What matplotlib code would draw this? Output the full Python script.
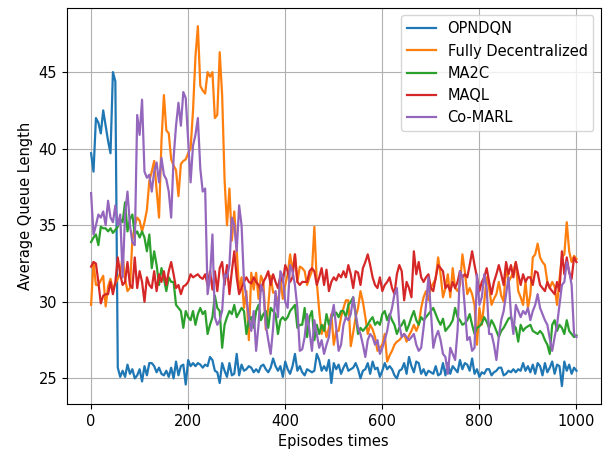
import numpy as np
import matplotlib
matplotlib.use("Agg")
import matplotlib.pyplot as plt

plt.rcParams["font.size"] = 10.5
plt.rcParams["lines.linewidth"] = 1.6

STEP = 5

opndqn = [39.7, 38.5, 42.0, 41.7, 41.0, 42.5, 41.5, 40.5, 39.7, 45.0, 44.4,
          25.7, 25.1, 25.5, 25.1, 25.9, 25.3, 25.6, 25.0, 25.2, 25.6, 24.8, 25.8, 25.2, 26.0, 26.0, 25.8,
          25.4, 25.7, 25.3, 25.2, 25.5, 25.1, 25.7, 25.0, 26.1, 25.2, 25.8, 25.9, 24.6, 26.2, 25.8, 26.0,
          25.8, 26.0, 25.9, 25.7, 25.9, 25.8, 26.4, 26.2, 25.5, 25.4, 24.7, 26.0, 25.5, 25.1, 26.0, 25.2,
          25.3, 26.6, 25.2, 25.9, 25.5, 25.6, 25.8, 25.7, 25.4, 25.6, 25.4, 25.8, 25.9, 25.6, 25.4, 25.7,
          26.3, 25.8, 25.5, 25.8, 25.1, 26.1, 25.6, 25.3, 25.8, 26.6, 25.5, 25.8, 25.4, 25.2, 25.6, 25.5,
          25.4, 25.5, 26.6, 26.2, 25.5, 25.8, 25.5, 26.2, 24.7, 26.0, 25.6, 25.9, 25.3, 25.7, 26.0, 25.5,
          25.6, 25.7, 26.0, 25.6, 25.0, 25.5, 25.6, 26.0, 25.3, 26.1, 25.6, 25.7, 25.1, 25.5, 26.0, 25.6,
          25.8, 25.6, 25.2, 25.0, 25.5, 25.6, 26.0, 25.3, 26.4, 25.8, 25.4, 26.1, 26.0, 25.3, 25.6, 25.2,
          25.5, 25.4, 25.3, 25.8, 25.2, 25.3, 26.0, 25.2, 26.0, 25.3, 25.8, 25.6, 25.4, 26.2, 25.6, 26.0,
          25.9, 25.5, 26.3, 25.3, 25.6, 25.1, 25.4, 25.3, 25.6, 25.6, 25.2, 25.4, 25.5, 25.7, 25.7, 25.2,
          25.3, 25.5, 25.4, 25.6, 25.4, 25.6, 25.5, 26.0, 25.5, 25.8, 25.4, 25.9, 25.3, 26.0, 25.8, 25.2,
          26.0, 25.4, 25.7, 26.1, 25.3, 25.9, 25.8, 24.5, 26.1, 25.5, 25.9, 25.3, 25.7, 25.5]

fully_dec = [29.8, 32.6, 31.1, 31.1, 31.4, 31.7, 29.7, 31.0, 31.5, 30.8, 31.2, 31.5, 31.9, 33.0, 31.5,
             30.7, 30.9, 34.0, 35.0, 35.5, 35.3, 34.6, 35.2, 36.0, 37.9, 38.5, 39.2, 37.3, 35.5, 40.5,
             43.5, 41.2, 41.0, 39.3, 38.9, 38.6, 36.9, 39.0, 39.2, 39.3, 39.7, 40.0, 42.5, 46.0, 48.0,
             44.1, 43.8, 43.6, 45.0, 44.7, 45.0, 42.0, 42.2, 46.3, 43.5, 38.0, 35.0, 37.4, 34.0, 35.9,
             33.4, 30.7, 31.6, 29.6, 30.7, 27.5, 31.9, 30.8, 31.9, 30.2, 31.7, 31.3, 28.2, 29.7, 31.7,
             30.6, 30.6, 29.7, 31.5, 30.2, 31.1, 31.8, 33.1, 32.0, 33.1, 31.3, 32.3, 32.2, 32.0, 31.1,
             31.6, 32.0, 34.9, 31.3, 29.4, 27.9, 28.5, 27.7, 28.3, 29.2, 27.2, 28.1, 28.1, 29.0, 29.6,
             30.1, 30.1, 27.1, 28.0, 29.0, 29.6, 30.7, 30.0, 29.0, 27.9, 28.5, 28.2, 27.7, 26.8, 27.0,
             27.2, 27.9, 26.1, 26.5, 26.8, 27.2, 27.4, 27.5, 27.7, 27.9, 27.4, 27.8, 28.1, 28.5, 28.1,
             28.5, 29.6, 30.3, 30.7, 30.1, 30.9, 31.2, 31.5, 32.9, 31.8, 30.3, 30.9, 31.8, 30.3, 32.2,
             30.9, 30.7, 31.1, 33.1, 32.0, 30.5, 30.9, 30.5, 29.8, 27.2, 29.6, 28.5, 30.0, 31.6, 30.9,
             29.8, 30.2, 30.5, 31.3, 30.4, 30.0, 32.4, 31.3, 31.6, 32.0, 32.6, 30.7, 30.3, 29.8, 31.3,
             29.6, 30.5, 32.9, 33.1, 33.8, 32.9, 32.6, 32.4, 31.3, 30.9, 31.3, 31.0, 29.8, 31.5, 32.9,
             33.1, 35.2, 33.3, 32.6, 33.0, 32.8]

ma2c = [33.9, 34.2, 34.4, 33.7, 34.9, 34.8, 34.8, 34.6, 34.8, 34.5, 34.7, 34.9, 35.4, 35.2, 36.5,
        34.6, 35.4, 35.7, 34.4, 34.6, 34.2, 34.6, 34.2, 33.3, 34.4, 32.2, 33.3, 32.4, 31.1, 32.2,
        31.5, 30.7, 31.6, 31.3, 31.3, 29.8, 29.6, 29.4, 28.3, 29.4, 29.0, 28.8, 29.4, 28.5, 29.2,
        29.6, 29.2, 29.4, 27.9, 28.5, 29.0, 30.4, 29.6, 29.4, 27.0, 28.5, 29.0, 29.4, 29.2, 29.8,
        29.0, 29.3, 29.6, 29.4, 27.9, 28.8, 29.0, 28.3, 29.4, 29.8, 28.8, 29.2, 29.4, 28.3, 29.6,
        29.4, 29.2, 27.9, 28.8, 29.0, 28.8, 29.0, 29.4, 29.6, 29.8, 28.3, 28.5, 28.5, 29.6, 27.7,
        29.0, 29.4, 27.5, 28.5, 27.9, 28.5, 28.1, 29.2, 28.5, 29.0, 29.2, 29.3, 29.0, 29.4, 29.4,
        29.0, 29.8, 30.0, 30.3, 29.2, 27.9, 28.3, 28.1, 28.3, 28.5, 28.8, 29.0, 28.5, 28.7, 28.5,
        29.2, 29.4, 28.8, 29.2, 28.8, 28.5, 27.9, 28.3, 28.5, 28.8, 28.1, 28.5, 29.0, 29.4, 28.8,
        28.5, 29.0, 28.8, 29.0, 29.2, 29.4, 29.6, 29.2, 28.8, 28.5, 28.9, 28.1, 28.3, 28.5, 28.8,
        29.6, 29.0, 28.8, 28.5, 28.6, 28.8, 29.2, 28.5, 27.9, 28.3, 28.4, 28.6, 29.0, 28.7, 28.3,
        28.8, 28.5, 28.1, 27.7, 28.1, 28.3, 28.6, 28.9, 29.0, 28.5, 28.3, 27.4, 28.5, 28.1, 28.3,
        28.4, 28.5, 28.1, 28.0, 27.9, 28.1, 27.9, 27.5, 27.2, 26.6, 28.5, 28.8, 28.1, 28.5, 28.3,
        27.9, 28.8, 28.1, 27.9, 27.7, 27.8]

maql = [32.3, 32.6, 32.5, 31.3, 29.9, 30.4, 30.5, 30.5, 31.3, 30.5, 31.3, 32.9, 31.8, 31.1, 31.3,
        32.6, 31.1, 30.9, 32.9, 30.9, 32.0, 31.3, 30.0, 31.6, 31.1, 30.9, 32.0, 30.7, 31.8, 31.3,
        32.0, 31.1, 32.0, 32.6, 31.8, 30.9, 31.1, 30.5, 31.0, 31.1, 31.3, 31.8, 31.6, 31.7, 31.8,
        31.6, 31.5, 31.8, 31.1, 32.0, 30.8, 32.0, 30.7, 32.2, 32.6, 31.1, 32.4, 30.5, 32.0, 33.3,
        31.6, 30.5, 30.9, 31.3, 31.6, 31.3, 31.2, 31.6, 31.3, 31.1, 30.7, 31.3, 31.6, 32.0, 31.1,
        31.8, 31.3, 30.9, 31.7, 31.3, 32.4, 32.0, 31.3, 31.6, 33.1, 31.3, 31.1, 31.3, 31.3, 31.3,
        32.0, 32.2, 32.0, 31.1, 31.6, 32.2, 31.1, 32.1, 30.7, 31.3, 31.6, 31.4, 31.8, 31.6, 32.0,
        31.6, 32.4, 31.8, 30.9, 32.0, 31.9, 31.1, 32.2, 32.6, 33.1, 32.4, 31.6, 31.1, 30.9, 31.6,
        30.7, 31.1, 31.3, 31.6, 30.9, 30.5, 31.8, 32.4, 32.0, 30.1, 31.3, 30.9, 30.3, 33.3, 31.8,
        32.6, 31.6, 31.3, 31.6, 31.8, 30.9, 30.7, 31.6, 32.4, 32.2, 32.0, 30.9, 31.1, 30.7, 31.3,
        30.9, 31.3, 32.0, 31.6, 31.8, 31.6, 32.4, 33.3, 32.4, 31.6, 30.7, 31.3, 31.6, 32.2, 31.3,
        30.5, 31.3, 31.8, 32.4, 31.8, 31.1, 32.6, 31.8, 32.4, 31.6, 32.6, 31.8, 31.1, 31.8, 31.3,
        31.6, 31.6, 31.1, 32.0, 31.9, 31.1, 30.9, 30.7, 31.3, 30.9, 30.7, 30.5, 31.3, 30.7, 33.3,
        31.8, 32.9, 31.9, 31.5, 32.9, 32.6]

co_marl = [37.1, 34.4, 35.0, 35.7, 35.5, 35.9, 35.0, 36.6, 35.5, 35.2, 36.3, 35.0, 35.7, 31.6, 35.7,
           37.2, 35.0, 33.9, 33.7, 42.2, 40.9, 43.2, 38.5, 38.1, 38.3, 37.2, 38.5, 39.1, 37.8, 39.4,
           38.3, 38.0, 37.2, 35.5, 39.4, 41.5, 43.0, 41.5, 43.7, 43.3, 40.6, 37.8, 40.2, 40.9, 42.0,
           38.7, 37.2, 37.4, 30.5, 31.6, 34.4, 29.0, 28.5, 28.8, 29.4, 31.8, 31.6, 32.4, 35.5, 35.0,
           33.3, 36.3, 35.0, 31.3, 30.3, 29.0, 28.1, 29.4, 26.8, 28.5, 31.1, 30.7, 28.5, 27.5, 26.6,
           28.3, 30.7, 29.0, 32.0, 31.6, 30.0, 29.6, 32.4, 32.0, 31.1, 29.6, 26.8, 26.9, 27.7, 29.2,
           28.1, 26.8, 28.8, 27.9, 27.0, 27.5, 26.6, 27.2, 27.7, 29.0, 29.8, 28.3, 26.8, 27.2, 28.5,
           29.0, 28.8, 29.2, 30.3, 29.2, 28.3, 27.9, 27.2, 26.4, 27.5, 27.9, 27.7, 27.2, 27.5, 26.6,
           27.0, 27.5, 28.1, 29.0, 29.6, 30.5, 30.9, 28.5, 27.7, 27.9, 27.7, 27.5, 27.7, 27.9, 27.2,
           26.8, 27.0, 28.3, 29.8, 31.6, 29.4, 27.0, 27.7, 28.1, 27.5, 26.6, 26.4, 25.3, 27.0, 26.6,
           26.2, 28.1, 32.0, 31.6, 29.6, 27.5, 27.7, 26.8, 27.0, 31.8, 29.8, 30.3, 31.8, 30.9, 27.9,
           27.9, 27.2, 26.2, 27.7, 28.8, 29.4, 30.5, 31.6, 29.2, 27.9, 29.8, 29.4, 29.0, 29.4, 29.2,
           29.6, 28.8, 29.4, 29.8, 30.5, 29.6, 29.2, 28.8, 28.5, 27.6, 26.8, 27.7, 28.5, 29.8, 31.1,
           31.3, 32.6, 32.0, 31.1, 27.9, 27.7]

labels = ["OPNDQN", "Fully Decentralized", "MA2C", "MAQL", "Co-MARL"]
series = [opndqn, fully_dec, ma2c, maql, co_marl]

fig, ax = plt.subplots(figsize=(6.13, 4.54), dpi=100)
for name, y in zip(labels, series):
    x = np.arange(len(y)) * STEP
    ax.plot(x, y, label=name)

ax.set(xlabel="Episodes times", ylabel="Average Queue Length")
ax.grid(True)
ax.legend(loc="upper right")
fig.subplots_adjust(left=0.109, right=0.980, top=0.982, bottom=0.110)
fig.savefig("out.png")
